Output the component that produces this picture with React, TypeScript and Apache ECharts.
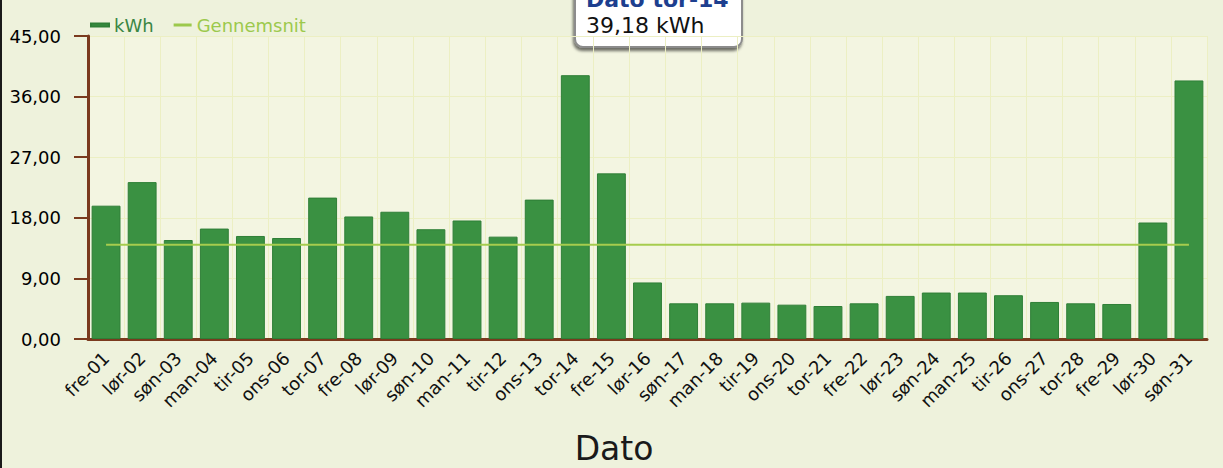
import React, { useEffect, useRef } from "react";
import * as echarts from "echarts";

const categories = [
  "fre-01", "lør-02", "søn-03", "man-04", "tir-05", "ons-06", "tor-07", "fre-08",
  "lør-09", "søn-10", "man-11", "tir-12", "ons-13", "tor-14", "fre-15", "lør-16",
  "søn-17", "man-18", "tir-19", "ons-20", "tor-21", "fre-22", "lør-23", "søn-24",
  "man-25", "tir-26", "ons-27", "tor-28", "fre-29", "lør-30", "søn-31",
];
const kwh = [
  19.8, 23.3, 14.7, 16.4, 15.3, 15.0, 21.0, 18.2, 18.9, 16.3, 17.6, 15.2, 20.7, 39.18,
  24.6, 8.4, 5.3, 5.3, 5.4, 5.1, 4.9, 5.3, 6.4, 6.9, 6.9, 6.5, 5.5, 5.3, 5.2, 17.3, 38.4,
];
const gennemsnit = 14.01;
const yMin = 0;
const yMax = 45;
const yInterval = 9;
const highlightIndex = 13;
const xTitle = "Dato";

const FONT = "DejaVu Sans";
const fmt = (v: number) => v.toFixed(2).replace(".", ",");

export default function App() {
  const ref = useRef<HTMLDivElement>(null);
  useEffect(() => {
    if (!ref.current) return;
    const chart = echarts.init(ref.current, null, { renderer: "svg" });
    chart.setOption({
      animation: false,
      backgroundColor: "#eef2dc",
      textStyle: { fontFamily: FONT },
      legend: {
        left: 85,
        top: 11,
        icon: "rect",
        itemWidth: 18,
        itemHeight: 3,
        itemGap: 20,
        textStyle: { fontFamily: FONT, fontSize: 18 },
        data: [
          { name: "kWh", textStyle: { color: "#3b8644" } },
          { name: "Gennemsnit", textStyle: { color: "#9cc94c" } },
        ],
      },
      grid: {
        left: 88,
        right: 16,
        top: 36,
        bottom: 129,
        show: true,
        backgroundColor: "#f3f5e1",
        borderWidth: 0,
      },
      xAxis: {
        type: "category",
        data: categories,
        axisLine: { lineStyle: { color: "#7a3a1e", width: 3 } },
        axisTick: { alignWithLabel: true, length: 12, lineStyle: { color: "#7a3a1e", width: 2 } },
        axisLabel: {
          rotate: 45,
          interval: 0,
          margin: 16,
          fontFamily: FONT,
          fontSize: 18,
          color: "#111",
        },
        splitLine: { show: true, lineStyle: { color: "#ecefc3", width: 1 } },
      },
      yAxis: {
        type: "value",
        min: yMin,
        max: yMax,
        interval: yInterval,
        axisLine: { show: true, lineStyle: { color: "#7a3a1e", width: 3 } },
        axisTick: { show: true, length: 14, lineStyle: { color: "#7a3a1e", width: 2 } },
        axisLabel: {
          margin: 27,
          fontFamily: FONT,
          fontSize: 18,
          color: "#000",
          formatter: (v: number) => fmt(v),
        },
        splitLine: { show: true, lineStyle: { color: "#ecefc3", width: 1 } },
      },
      series: [
        {
          name: "kWh",
          type: "bar",
          data: kwh,
          barCategoryGap: "20%",
          itemStyle: { color: "#3a9142", borderColor: "#2f7f37", borderWidth: 1 },
          z: 2,
        },
        {
          name: "Gennemsnit",
          type: "line",
          data: [
            [categories[0], gennemsnit],
            [categories[categories.length - 1], gennemsnit],
          ],
          symbol: "none",
          lineStyle: { color: "#a6cc4e", width: 2 },
          itemStyle: { color: "#9cc94c" },
          z: 3,
        },
      ],
      graphic: [
        {
          type: "rect",
          left: 0,
          top: 0,
          shape: { width: 2, height: 468 },
          style: { fill: "#1a1a1a" },
        },
        {
          type: "text",
          x: 614,
          y: 448,
          style: {
            text: xTitle,
            font: "33px 'DejaVu Sans'",
            fill: "#1a1a1a",
            align: "center",
            verticalAlign: "middle",
          },
        },
        {
          type: "group",
          z: 100,
          children: [
            {
              type: "rect",
              x: 575,
              y: -30,
              shape: { width: 167, height: 77, r: 8 },
              style: {
                fill: "#ffffff",
                stroke: "#8c8c8c",
                lineWidth: 2,
                shadowBlur: 3,
                shadowOffsetX: -1,
                shadowOffsetY: 3,
                shadowColor: "rgba(0,0,0,0.55)",
              },
            },
            {
              type: "text",
              x: 586,
              y: -1,
              style: {
                text: "Dato " + categories[highlightIndex],
                font: "bold 22px 'DejaVu Sans'",
                fill: "#1d3f8f",
                verticalAlign: "middle",
              },
            },
            {
              type: "text",
              x: 586,
              y: 25,
              style: {
                text: fmt(kwh[highlightIndex]) + " kWh",
                font: "22px 'DejaVu Sans'",
                fill: "#111111",
                verticalAlign: "middle",
              },
            },
          ],
        },
      ],
    });
    return () => chart.dispose();
  }, []);
  return (
    <div
      ref={ref}
      style={{ position: "fixed", left: 0, top: 0, width: 1223, height: 468 }}
    />
  );
}
